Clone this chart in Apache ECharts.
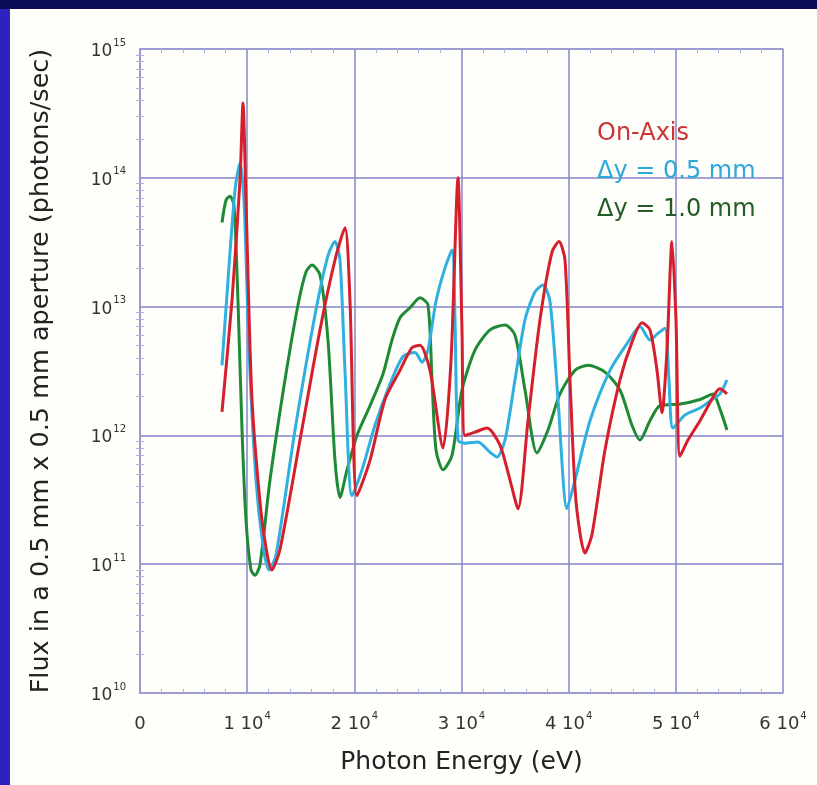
<!DOCTYPE html>
<html>
<head>
<meta charset="utf-8">
<script src="https://cdn.jsdelivr.net/npm/echarts@6/dist/echarts.min.js"></script>
<style>
html,body{margin:0;padding:0;background:#0b0c58;}
#c{width:817px;height:785px;}
</style>
</head>
<body>
<div id="c"></div>
<script>
// ---- Data ----
const seriesNames = ['On-Axis', 'Δy = 0.5 mm', 'Δy = 1.0 mm'];
const xTicks = [0, 10000, 20000, 30000, 40000, 50000, 60000];

const redE = [7651, 8585, 9331, 9611, 9891, 10450, 11384, 12317, 13063, 14930, 16796, 18195, 19128, 19595, 20248, 21461, 22861, 24261, 25380, 26127, 27060, 28273, 29020, 29673, 30046, 30326, 31259, 32379, 33592, 34525, 35271, 36204, 37324, 38444, 39097, 39657, 40123, 40683, 41523, 42176, 43389, 44789, 45908, 46841, 47588, 48241, 48707, 49174, 49641, 50014, 50387, 51134, 52254, 53653, 54120, 54773];
const redF = [1.52e12, 1.12e13, 9.6e13, 3.8e14, 6.7e13, 1.9e12, 2.2e11, 9.0e10, 1.3e11, 9.2e11, 6.6e12, 2.3e13, 4.1e13, 1.1e13, 3.4e11, 6.4e11, 1.9e12, 3.2e12, 4.8e12, 5.0e12, 3.2e12, 8.0e11, 3.8e12, 1.0e14, 6.6e12, 1.0e12, 1.06e12, 1.14e12, 8.4e11, 4.5e11, 2.7e11, 1.3e12, 7.9e12, 2.65e13, 3.2e13, 2.3e13, 2.7e12, 3.1e11, 1.22e11, 1.7e11, 7.7e11, 2.7e12, 5.3e12, 7.5e12, 6.6e12, 3.2e12, 1.5e12, 4.6e12, 3.2e13, 7.9e12, 6.9e11, 9.2e11, 1.3e12, 2.1e12, 2.3e12, 2.1e12];

const cyanE = [7651, 8211, 8864, 9331, 9704, 10171, 10824, 11477, 12037, 12690, 14463, 16329, 17542, 18195, 18662, 19128, 19782, 20715, 21928, 23328, 24541, 25660, 26314, 26873, 27620, 28460, 29113, 29393, 29673, 30326, 31539, 32659, 33312, 34058, 34992, 35925, 36858, 37605, 38258, 39004, 39844, 40590, 41990, 43856, 45535, 46655, 47588, 48334, 48987, 49361, 49734, 50854, 52254, 53373, 54120, 54773];
const cyanF = [3.5e12, 1.6e13, 8.0e13, 1.3e14, 6.7e13, 4.6e12, 4.5e11, 1.4e11, 9.0e10, 1.18e11, 1.1e12, 8.6e12, 2.5e13, 3.2e13, 2.3e13, 3.2e12, 3.4e11, 5.4e11, 1.2e12, 2.5e12, 4.1e12, 4.4e12, 3.7e12, 4.6e12, 1.1e13, 2.0e13, 2.75e13, 7.9e12, 9.2e11, 8.7e11, 8.9e11, 7.4e11, 6.8e11, 9.2e11, 2.7e12, 7.9e12, 1.3e13, 1.47e13, 1.1e13, 1.9e12, 2.7e11, 4.5e11, 1.3e12, 3.2e12, 5.3e12, 7.0e12, 5.5e12, 6.2e12, 6.8e12, 2.7e12, 1.14e12, 1.44e12, 1.63e12, 1.9e12, 2.1e12, 2.7e12];

const greenE = [7651, 8025, 8398, 8771, 9144, 9518, 9891, 10357, 10731, 11197, 12130, 13530, 14743, 15489, 16049, 16796, 17542, 18195, 18662, 19315, 20248, 21461, 22674, 23514, 24261, 25194, 26127, 26873, 27247, 27620, 28273, 29113, 30046, 31259, 32659, 34058, 34992, 35925, 37045, 38071, 39191, 40590, 41803, 43389, 44789, 45908, 46655, 47588, 48521, 50387, 52254, 53467, 54120, 54773];
const greenF = [4.5e13, 6.7e13, 7.2e13, 6.1e13, 1.1e13, 1.1e12, 2.2e11, 9.0e10, 8.2e10, 9.9e10, 4.5e11, 2.7e12, 1.03e13, 1.86e13, 2.1e13, 1.76e13, 5.5e12, 6.4e11, 3.3e11, 5.4e11, 1.0e12, 1.7e12, 3.0e12, 5.5e12, 8.2e12, 9.8e12, 1.17e13, 1.03e13, 2.7e12, 7.7e11, 5.4e11, 7.0e11, 2.25e12, 4.6e12, 6.6e12, 7.2e12, 6.0e12, 2.25e12, 7.3e11, 1.1e12, 2.1e12, 3.2e12, 3.5e12, 3.1e12, 2.25e12, 1.2e12, 9.2e11, 1.3e12, 1.7e12, 1.75e12, 1.9e12, 2.1e12, 1.6e12, 1.1e12];

const colors = ['#d61f2c', '#2fb0e0', '#1f8a35'];
const textColors = ['#cc3434', '#2ea8d8', '#245c28'];

function pairs(xs, ys) { return xs.map((x, i) => [x, ys[i]]); }

const chart = echarts.init(document.getElementById('c'), null, {renderer: 'canvas'});
const gridColor = '#8585cc';
const tickColor = '#b0b0e0';
const font = '"DejaVu Sans", Verdana, sans-serif';

const xAxisBase = {
  type: 'value', min: 0, max: 60000, interval: 10000,
  axisLine: {show: true, lineStyle: {color: '#9a9ad0', width: 1.5}},
  axisTick: {show: false, inside: true},
  minorTick: {show: true, splitNumber: 5, length: 4, lineStyle: {color: tickColor}},
  splitLine: {show: false},
};
const yAxisBase = {
  type: 'log', logBase: 10, min: 1e10, max: 1e15,
  axisLine: {show: true, lineStyle: {color: '#9a9ad0', width: 1.5}},
  axisTick: {show: false, inside: true},
  minorTick: {show: true, splitNumber: 9, length: 4, lineStyle: {color: tickColor}},
  splitLine: {show: false},
};

chart.setOption({
  backgroundColor: '#0b0c58',
  animation: false,
  textStyle: {fontFamily: font},
  graphic: [
    {type: 'rect', shape: {x: 0, y: 9, width: 10, height: 776}, style: {fill: '#2d22c0'}, z: -10},
    {type: 'rect', shape: {x: 10, y: 9, width: 807, height: 776}, style: {fill: '#fefefb'}, z: -10}
  ],
  grid: {left: 140, top: 49, right: 34, bottom: 92, containLabel: false},
  legend: {
    orient: 'vertical', left: 587, top: 117, icon: 'none', itemWidth: 0, itemHeight: 24, itemGap: 14,
    selectedMode: false,
    data: seriesNames.map((n, i) => ({name: n, textStyle: {color: textColors[i], fontSize: 24, lineHeight: 24, fontFamily: font}}))
  },
  xAxis: [
    Object.assign({}, xAxisBase, {
      position: 'bottom',
      name: 'Photon Energy (eV)', nameLocation: 'middle', nameGap: 57,
      nameTextStyle: {fontSize: 25, color: '#222', fontFamily: font},
      splitLine: {show: true, lineStyle: {color: gridColor, width: 1.5}},
      axisLabel: {
        margin: 18, color: '#333',
        formatter: v => v === 0 ? '{b|0}' : '{b|' + (v / 10000) + ' 10}{s|4}',
        rich: {b: {fontSize: 18, color: '#333', fontFamily: font, lineHeight: 22, verticalAlign: 'bottom'},
               s: {fontSize: 10, color: '#333', fontFamily: font, lineHeight: 22, verticalAlign: 'top', padding: [0, 0, 9, 1]}}
      }
    }),
    Object.assign({}, xAxisBase, {position: 'top', axisLabel: {show: false}})
  ],
  yAxis: [
    Object.assign({}, yAxisBase, {
      position: 'left',
      name: 'Flux in a 0.5 mm x 0.5 mm aperture (photons/sec)', nameLocation: 'middle', nameGap: 86,
      nameTextStyle: {fontSize: 25.5, color: '#222', fontFamily: font},
      splitLine: {show: true, lineStyle: {color: gridColor, width: 1.5}},
      axisLabel: {
        margin: 14, color: '#333',
        formatter: v => '{b|10}{s|' + Math.round(Math.log10(v)) + '}',
        rich: {b: {fontSize: 17, color: '#333', fontFamily: font, lineHeight: 22, verticalAlign: 'bottom'},
               s: {fontSize: 10, color: '#333', fontFamily: font, lineHeight: 22, verticalAlign: 'top', padding: [0, 0, 9, 1]}}
      }
    }),
    Object.assign({}, yAxisBase, {position: 'right', axisLabel: {show: false}})
  ],
  series: [
    {name: seriesNames[2], type: 'line', data: pairs(greenE, greenF), color: colors[2]},
    {name: seriesNames[1], type: 'line', data: pairs(cyanE, cyanF), color: colors[1]},
    {name: seriesNames[0], type: 'line', data: pairs(redE, redF), color: colors[0]}
  ].map(s => Object.assign(s, {showSymbol: false, smooth: 0.25, lineStyle: {width: 3, color: s.color}, xAxisIndex: 0, yAxisIndex: 0}))
});
</script>
</body>
</html>
